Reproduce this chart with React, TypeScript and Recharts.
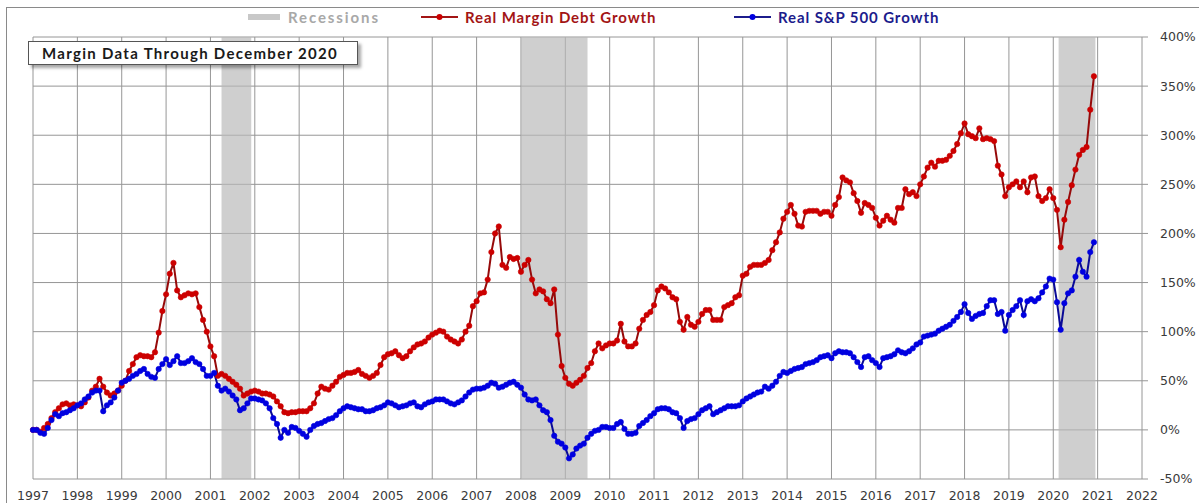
import { LineChart, Line, XAxis, YAxis, CartesianGrid, ReferenceArea } from 'recharts';

// year ticks along the bottom and the % ticks on the right
const years = [
  1997, 1998, 1999, 2000, 2001, 2002, 2003, 2004, 2005, 2006, 2007, 2008, 2009,
  2010, 2011, 2012, 2013, 2014, 2015, 2016, 2017, 2018, 2019, 2020, 2021, 2022,
];
const pctTicks = [-50, 0, 50, 100, 150, 200, 250, 300, 350, 400];

// shaded recessions (start, end as fractional years)
const recessions = [
  [2001.25, 2001.92],
  [2008.0, 2009.5],
  [2020.12, 2020.95],
];

// monthly values, Jan 1997 .. Dec 2020, one row per year
const marginDebtGrowth = [
  0, 0, -2, 2, 6, 12, 18, 22, 26, 27, 25, 26,
  25, 24, 28, 33, 40, 44, 52, 44, 38, 35, 37, 40,
  45, 50, 60, 67, 74, 76, 75, 75, 74, 79, 99, 121,
  138, 159, 170, 142, 135, 137, 139, 138, 139, 125, 112, 100,
  85, 75, 55, 57, 55, 52, 49, 46, 42, 35, 37, 39,
  40, 39, 37, 37, 36, 34, 29, 24, 18, 17, 18, 18,
  19, 19, 19, 22, 27, 37, 44, 42, 41, 45, 49, 54,
  56, 58, 58, 59, 61, 57, 55, 53, 55, 58, 66, 74,
  77, 78, 80, 76, 73, 75, 80, 84, 87, 88, 90, 94,
  97, 99, 101, 100, 95, 92, 90, 88, 92, 100, 106, 126,
  131, 139, 140, 153, 181, 200, 207, 168, 165, 176, 174, 175,
  161, 168, 173, 153, 139, 143, 141, 133, 129, 143, 97, 65,
  53, 47, 45, 48, 51, 55, 63, 68, 80, 88, 83, 86,
  88, 88, 91, 108, 90, 85, 85, 88, 103, 112, 117, 120,
  127, 142, 146, 144, 140, 135, 133, 110, 102, 115, 107, 105,
  110, 118, 122, 122, 112, 112, 112, 125, 127, 129, 135, 137,
  157, 159, 166, 168, 168, 168, 170, 173, 183, 191, 201, 215,
  222, 229, 220, 208, 207, 222, 223, 223, 223, 220, 222, 222,
  218, 229, 237, 257, 254, 252, 241, 233, 221, 231, 229, 226,
  216, 208, 213, 218, 214, 211, 226, 226, 245, 240, 242, 238,
  250, 258, 267, 272, 268, 274, 274, 275, 279, 284, 291, 302,
  312, 301, 299, 297, 307, 296, 297, 296, 294, 269, 260, 238,
  247, 250, 253, 247, 253, 242, 257, 258, 238, 233, 236, 245,
  236, 224, 186, 214, 232, 249, 265, 280, 285, 288, 326, 360,
];

const sp500Growth = [
  0, 0, -3, -4, 2, 10, 16, 14, 17, 18, 20, 22,
  25, 27, 31, 34, 38, 40, 40, 19, 25, 28, 33, 40,
  48, 50, 52, 55, 57, 60, 62, 57, 54, 53, 62, 67,
  72, 66, 70, 75, 68, 68, 70, 73, 69, 67, 62, 55,
  55, 58, 45, 40, 42, 39, 35, 31, 20, 22, 27, 32,
  32, 31, 30, 27, 22, 12, 6, -8, 0, -3, 3, 2,
  -1, -4, -7, 0, 4, 6, 7, 9, 11, 12, 15, 19,
  22, 24, 23, 22, 21, 21, 19, 19, 20, 22, 23, 25,
  28, 27, 25, 23, 24, 25, 27, 28, 24, 23, 26, 28,
  29, 31, 31, 31, 29, 27, 26, 28, 30, 34, 38, 41,
  42, 42, 43, 45, 48, 47, 43, 44, 46, 48, 49, 46,
  43, 36, 31, 30, 31, 25, 20, 18, 10, -6, -12, -14,
  -18, -29, -25, -19, -16, -14, -8, -4, -1, 0, 3, 3,
  2, 2, 6, 8, 1, -4, -4, -3, 4, 7, 10, 14,
  17, 21, 22, 22, 21, 18, 17, 12, 2, 9, 11, 12,
  16, 20, 22, 24, 16, 18, 20, 22, 24, 24, 24, 25,
  29, 32, 34, 36, 38, 39, 44, 42, 45, 49, 55, 59,
  58, 60, 62, 63, 64, 67, 68, 69, 71, 74, 75, 76,
  73, 78, 80, 79, 79, 78, 74, 69, 64, 74, 75, 71,
  68, 64, 73, 74, 75, 77, 81, 79, 78, 80, 83, 87,
  89, 95, 96, 97, 98, 101, 103, 105, 107, 111, 115, 120,
  128, 119, 113, 116, 118, 119, 126, 132, 132, 118, 120, 101,
  117, 122, 126, 132, 117, 131, 133, 131, 134, 140, 146, 154,
  153, 130, 102, 129, 139, 142, 156, 173, 161, 156, 181, 191,
];

const data = marginDebtGrowth.map((v, i) => ({
  t: 1997 + i / 12,
  margin: v,
  sp: sp500Growth[i],
}));

const RED_LINE = '#960a0a';
const RED_DOT = '#cc0000';
const BLUE_LINE = '#0a0a96';
const BLUE_DOT = '#0000e0';
const GRID = '#969696';
const legendFont = 'Lato, "Open Sans", sans-serif';
const tickFont = '"DejaVu Sans", Verdana, sans-serif';

function LegendItem({ color, dot, label, left, width }: { color: string; dot: string; label: string; left: number; width: number }) {
  return (
    <div style={{ position: 'absolute', left, top: 6, height: 22, display: 'flex', alignItems: 'center' }}>
      <svg width={width} height={10} style={{ marginRight: 7 }}>
        <line x1={0} y1={5} x2={width} y2={5} stroke={color} strokeWidth={2} />
        <circle cx={width / 2} cy={5} r={3} fill={dot} />
      </svg>
      <span style={{ fontFamily: legendFont, fontWeight: 700, fontSize: 15, letterSpacing: 0.9, color }}>{label}</span>
    </div>
  );
}

export default function App() {
  return (
    <div style={{ position: 'absolute', left: 0, top: 0, width: 1199, height: 503, overflow: 'hidden', background: '#fff' }}>
      {/* outer frame */}
      <div style={{ position: 'absolute', left: 6, top: 7, width: 1300, height: 600, border: '1px solid #8a8a8a' }} />

      <LineChart width={1199} height={503} data={data} margin={{ top: 37, right: 0, left: 33, bottom: 0 }}>
        <CartesianGrid stroke={GRID} strokeWidth={1} />
        {recessions.map(([a, b]) => (
          <ReferenceArea key={a} x1={a} x2={b} y1={-50} y2={400} fill="#b8b8b8" fillOpacity={0.68} stroke="none" ifOverflow="hidden" />
        ))}
        <XAxis
          dataKey="t"
          type="number"
          domain={[1997, 2022]}
          ticks={years}
          interval={0}
          height={24}
          axisLine={false}
          tickLine={false}
          tickMargin={6}
          tick={{ fill: '#3a3a3a', fontSize: 12.5, fontFamily: tickFont }}
        />
        <YAxis
          orientation="right"
          type="number"
          domain={[-50, 400]}
          ticks={pctTicks}
          width={57}
          axisLine={false}
          tickSize={6}
          tickLine={{ stroke: GRID }}
          tickMargin={12}
          tickFormatter={(v: number) => `${v}%`}
          tick={{ fill: '#3a3a3a', fontSize: 12.5, fontFamily: tickFont }}
        />
        <Line
          type="linear"
          dataKey="margin"
          stroke={RED_LINE}
          strokeWidth={2}
          dot={{ r: 2.7, fill: RED_DOT, stroke: RED_DOT, strokeWidth: 0.6 }}
          isAnimationActive={false}
        />
        <Line
          type="linear"
          dataKey="sp"
          stroke={BLUE_LINE}
          strokeWidth={2}
          dot={{ r: 2.7, fill: BLUE_DOT, stroke: BLUE_DOT, strokeWidth: 0.6 }}
          isAnimationActive={false}
        />
      </LineChart>

      {/* legend */}
      <div style={{ position: 'absolute', left: 248, top: 14, width: 32, height: 6, background: '#c8c8c8' }} />
      <div style={{ position: 'absolute', left: 288, top: 6, height: 22, lineHeight: '22px', fontFamily: legendFont, fontWeight: 700, fontSize: 15, letterSpacing: 1.9, color: '#a8a8a8' }}>
        Recessions
      </div>
      <LegendItem color="#a31515" dot={RED_DOT} label="Real Margin Debt Growth" left={421} width={37} />
      <LegendItem color="#1c1c8c" dot={BLUE_DOT} label="Real S&P 500 Growth" left={734} width={37} />

      {/* note box */}
      <div
        style={{
          position: 'absolute',
          left: 28,
          top: 41,
          width: 330,
          height: 24,
          background: '#fff',
          border: '1px solid #555',
          boxShadow: '3px 3px 3px rgba(0,0,0,0.35)',
          fontFamily: legendFont,
          fontWeight: 700,
          fontSize: 15,
          lineHeight: '22px',
          letterSpacing: 1.3,
          color: '#1a1a1a',
          paddingLeft: 13,
          boxSizing: 'border-box',
          whiteSpace: 'nowrap',
        }}
      >
        Margin Data Through December 2020
      </div>
    </div>
  );
}
